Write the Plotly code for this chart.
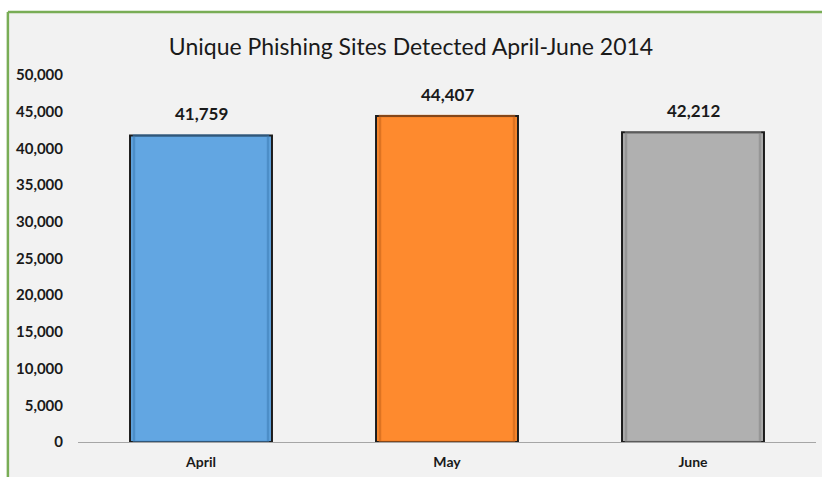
import plotly.graph_objects as go

# Monthly counts of unique phishing sites
months = ["April", "May", "June"]
sites = [41759, 44407, 42212]
bar_colors = ["#62a6e2", "#fe8a2e", "#b0b0b0"]
bevel_colors = ["#3f7fb8", "#c9641a", "#858585"]
y_ticks = [0, 5000, 10000, 15000, 20000, 25000, 30000, 35000, 40000, 45000, 50000]
y_tick_text = [f"{v:,}" for v in y_ticks]

FONT = "Lato, 'Open Sans', sans-serif"

fig = go.Figure()
fig.add_trace(go.Bar(
    x=months,
    y=sites,
    width=0.577,
    marker=dict(color=bar_colors, line=dict(color="#1c1c1c", width=2)),
    hoverinfo="skip",
))
# Inner shading to give the columns a soft bevelled edge
fig.add_trace(go.Bar(
    x=months,
    y=sites,
    width=0.545,
    marker=dict(color="rgba(0,0,0,0)", line=dict(color=bevel_colors, width=2.5)),
    opacity=0.6,
    hoverinfo="skip",
))

# Value labels above each column
for m, v in zip(months, sites):
    fig.add_annotation(
        x=m, y=v, text=f"{v:,}", showarrow=False,
        yanchor="bottom", yshift=9,
        font=dict(family=FONT, size=17, color="#1a1a1a", weight="bold"),
    )

# White strips outside the chart panel (top and left), with the green frame edge
PANEL_LEFT, PANEL_TOP = -0.095, 1.1717
fig.add_shape(
    type="rect", xref="paper", yref="paper",
    x0=-0.2, x1=1.2, y0=PANEL_TOP, y1=1.4,
    line=dict(width=0), fillcolor="#ffffff", layer="below",
)
fig.add_shape(
    type="rect", xref="paper", yref="paper",
    x0=-0.2, x1=PANEL_LEFT, y0=-0.2, y1=1.4,
    line=dict(width=0), fillcolor="#ffffff", layer="below",
)
fig.add_shape(
    type="line", xref="paper", yref="paper",
    x0=PANEL_LEFT, x1=1.2, y0=PANEL_TOP, y1=PANEL_TOP,
    line=dict(color="#79ad56", width=2.5), layer="below",
)
fig.add_shape(
    type="line", xref="paper", yref="paper",
    x0=PANEL_LEFT, x1=PANEL_LEFT, y0=-0.2, y1=PANEL_TOP,
    line=dict(color="#79ad56", width=2.5), layer="below",
)

fig.update_layout(
    width=822, height=477,
    margin=dict(l=78, r=6, t=75, b=35),
    paper_bgcolor="#f2f2f2",
    plot_bgcolor="rgba(0,0,0,0)",
    barmode="overlay",
    showlegend=False,
    title=dict(
        text="Unique Phishing Sites Detected April-June 2014",
        x=0.5, xanchor="center", xref="container",
        y=1 - 47 / 477, yanchor="middle",
        font=dict(family=FONT, size=23, color="#1a1a1a"),
    ),
    xaxis=dict(
        showline=True, linecolor="#a6a6a6", linewidth=1.2,
        ticks="", showgrid=False,
        tickfont=dict(family=FONT, size=14, color="#1a1a1a", weight="bold"),
        ticklabelstandoff=7,
    ),
    yaxis=dict(
        range=[0, 50000],
        tickvals=y_ticks, ticktext=y_tick_text,
        showgrid=False, zeroline=False, showline=False, ticks="",
        tickfont=dict(family=FONT, size=15, color="#1a1a1a", weight="bold"),
        ticklabelstandoff=14,
    ),
)

fig.write_html("out.html")
